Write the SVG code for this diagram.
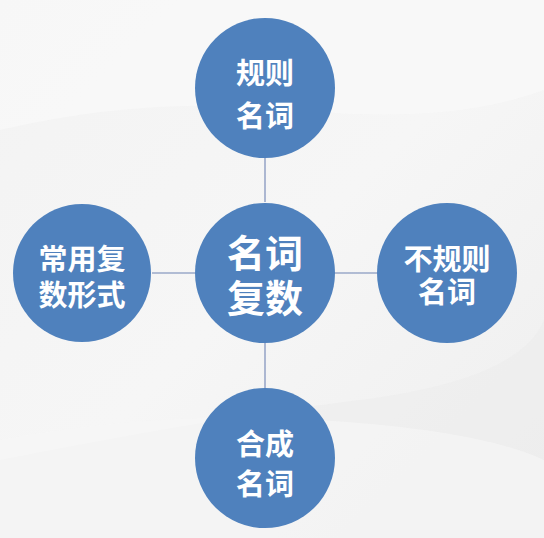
<svg xmlns="http://www.w3.org/2000/svg" width="544" height="538" viewBox="0 0 544 538">
  <defs>
    <linearGradient id="bg" x1="0" y1="0" x2="1" y2="1">
      <stop offset="0" stop-color="#f3f3f3"/>
      <stop offset="0.5" stop-color="#f6f6f6"/>
      <stop offset="1" stop-color="#eeeeee"/>
    </linearGradient>
    <style>
      .node { fill: #4f81bd; }
      .lbl { fill: #ffffff; font-family: "Noto Sans CJK SC", "Noto Sans", sans-serif; font-weight: bold; text-anchor: middle; dominant-baseline: central; }
      .s { font-size: 29px; }
      .l { font-size: 38px; }
      .edge { stroke: #9aa8c9; stroke-width: 1.6; fill: none; }
    </style>
  </defs>
  <rect width="544" height="538" fill="url(#bg)"/>
  <path d="M0 130 Q150 95 300 110 T544 90 L544 0 L0 0 Z" fill="#fafafa" opacity="0.6"/>
  <path d="M0 460 Q200 420 360 400 T544 320 L544 538 L0 538 Z" fill="#ebebeb" opacity="0.5"/>
  <path d="M0 440 Q160 410 320 420 T544 460 L544 538 L0 538 Z" fill="#f7f7f7" opacity="0.6"/>
  <g id="connectors">
    <line class="edge" x1="265" y1="158" x2="265" y2="202"/>
    <line class="edge" x1="265" y1="343" x2="265" y2="388"/>
    <line class="edge" x1="152" y1="273" x2="195" y2="273"/>
    <line class="edge" x1="335" y1="273" x2="377" y2="273"/>
  </g>
  <g id="top">
    <circle class="node" cx="265" cy="88" r="70"/>
    <text class="lbl s"><tspan x="265" y="71">规则</tspan><tspan x="265" dy="43">名词</tspan></text>
  </g>
  <g id="center">
    <circle class="node" cx="265" cy="273" r="70"/>
    <text class="lbl l"><tspan x="265" y="250">名词</tspan><tspan x="265" dy="45">复数</tspan></text>
  </g>
  <g id="left">
    <circle class="node" cx="82" cy="273" r="69"/>
    <text class="lbl s"><tspan x="82" y="257">常用复</tspan><tspan x="82" dy="36">数形式</tspan></text>
  </g>
  <g id="right">
    <circle class="node" cx="447" cy="273" r="70"/>
    <text class="lbl s"><tspan x="447" y="257">不规则</tspan><tspan x="447" dy="33">名词</tspan></text>
  </g>
  <g id="bottom">
    <circle class="node" cx="265" cy="458" r="70"/>
    <text class="lbl s"><tspan x="265" y="442">合成</tspan><tspan x="265" dy="40">名词</tspan></text>
  </g>
</svg>
